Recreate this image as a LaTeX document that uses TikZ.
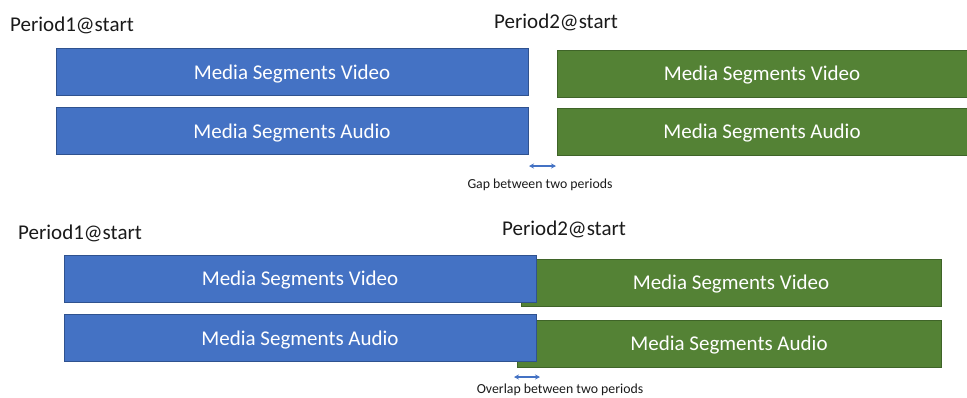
\documentclass[tikz,border=0pt]{standalone}
\usepackage{fontspec}
\setmainfont{Carlito}
\usetikzlibrary{arrows.meta}
\definecolor{vblue}{HTML}{4472C4}
\definecolor{vblueb}{HTML}{2F528F}
\definecolor{vgreen}{HTML}{548235}
\definecolor{vgreenb}{HTML}{3F6428}
\definecolor{txt}{HTML}{1A1A1A}
\tikzset{
  seg/.style={minimum width=#1, inner sep=0pt, minimum height=47pt, text=white,
    text depth=0pt, font=\fontsize{21}{25}\selectfont, line width=0.6pt},
  bseg/.style={seg=#1, fill=vblue, draw=vblueb},
  gseg/.style={seg=#1, fill=vgreen, draw=vgreenb},
  plabel/.style={anchor=base west, inner sep=0pt, text=txt, font=\fontsize{21}{25}\selectfont},
  small/.style={anchor=base, inner sep=0pt, text=txt, font=\fontsize{13.8}{16}\selectfont},
  dim/.style={{Stealth[length=5pt,width=5pt]}-{Stealth[length=5pt,width=5pt]}, draw=vblue, line width=1.1pt}
}
\begin{document}
\begin{tikzpicture}[x=1pt,y=-1pt]
\useasboundingbox (0,0) rectangle (967,397);
% top diagram
\node[plabel] (p1a) at (10,31) {Period1@start};
\node[plabel] (p2a) at (494,28) {Period2@start};
\node[bseg=472pt] (bva) at (292,72) {Media Segments Video};
\node[bseg=472pt] (baa) at (292,131) {Media Segments Audio};
\node[gseg=410pt] (gva) at (762,73.5) {Media Segments Video};
\node[gseg=410pt] (gaa) at (762,131.5) {Media Segments Audio};
\coordinate (ga1) at (529,166);
\coordinate (ga2) at (556,166);
\draw[dim] (ga1) -- (ga2);
\node[small] (gapt) at (540,188) {Gap between two periods};
% bottom diagram
\node[plabel] (p1b) at (18,239) {Period1@start};
\node[plabel] (p2b) at (502,235) {Period2@start};
\node[gseg=420pt] (gvb) at (731,282.5) {Media Segments Video};
\node[gseg=424pt] (gab) at (729,343.5) {Media Segments Audio};
\node[bseg=472pt] (bvb) at (300,278.5) {Media Segments Video};
\node[bseg=472pt] (bab) at (300,338) {Media Segments Audio};
\coordinate (ov1) at (514,377);
\coordinate (ov2) at (540,377);
\draw[dim] (ov1) -- (ov2);
\node[small] (ovt) at (560,393) {Overlap between two periods};
\end{tikzpicture}
\end{document}
